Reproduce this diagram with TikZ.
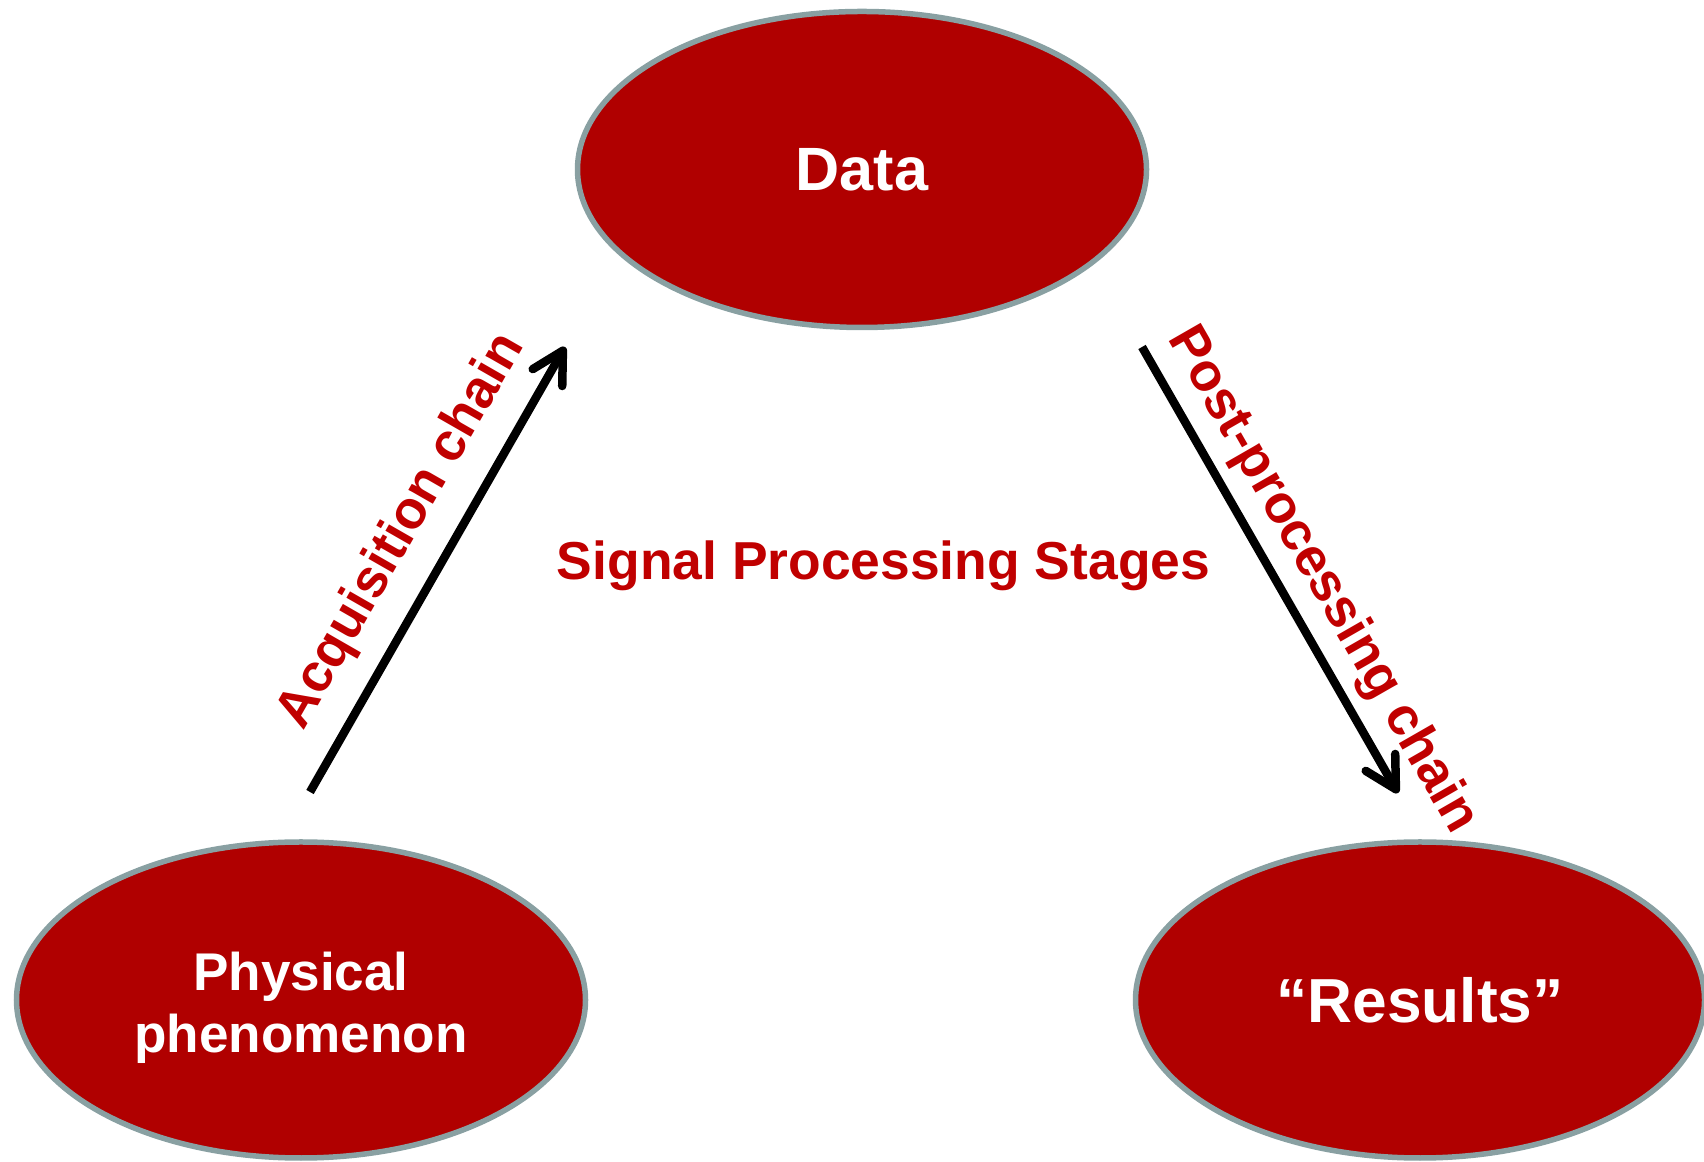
\documentclass[tikz,border=0pt]{standalone}
\usepackage{fontspec}
\setmainfont{Liberation Sans}
\usepackage{xcolor}
\usepackage{tikz}
\usetikzlibrary{arrows.meta, shapes.geometric}

\definecolor{stagered}{RGB}{176,0,0}
\definecolor{rimgray}{RGB}{137,160,162}
\definecolor{labelred}{RGB}{192,0,0}

\begin{document}
\begin{tikzpicture}[
    font=\bfseries,
    stage/.style={ellipse, draw=rimgray, line width=0.055cm, fill=stagered,
                  text=white, inner sep=0pt, align=center,
                  minimum width=5.69cm, minimum height=3.16cm},
    chain/.style={-{Straight Barb[length=3.1mm, width=3.4mm, round]},
                  line width=0.085cm},
    chainlabel/.style={text=labelred, font=\fontsize{15.2}{18}\selectfont\bfseries}
  ]
    \useasboundingbox (0,0) rectangle (17.04,11.61);
    \node[stage, font=\fontsize{17.4}{20}\selectfont\bfseries] (data) at (8.62,9.915)
      {Data};
    \node[stage, font=\fontsize{15.1}{17.6}\selectfont\bfseries] (phys) at (3.01,1.61)
      {\rule{0pt}{0.54cm}Physical\\phenomenon};
    \node[stage, font=\fontsize{17.7}{20}\selectfont\bfseries] (results) at (14.20,1.61)
      {“Results”};
    \coordinate (acqstart) at (3.10,3.69);
    \coordinate (acqend) at (5.65,8.14);
    \coordinate (poststart) at (11.42,8.14);
    \coordinate (postend) at (13.98,3.68);
    \draw[chain] (acqstart) -- node[chainlabel, pos=0.53, sloped, above=0.36cm,
      anchor=base] (acqlabel) {Acquisition chain} (acqend);
    \draw[chain] (poststart) -- node[chainlabel, pos=0.568, sloped, above=0.26cm,
      anchor=base] (postlabel) {Post-processing chain} (postend);
    \node[chainlabel] (title) at (8.835,5.81) [anchor=base]
      {Signal Processing Stages};
  \end{tikzpicture}
\end{document}
